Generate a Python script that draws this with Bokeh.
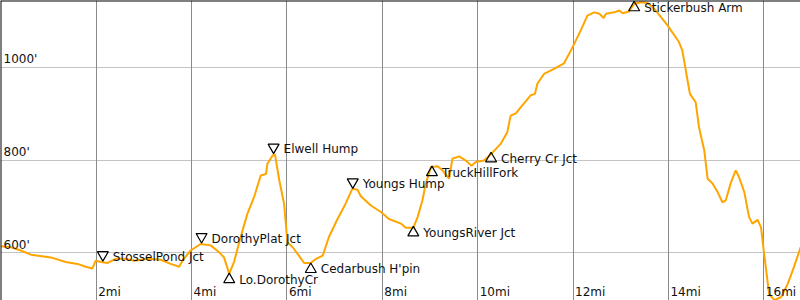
import math
from bokeh.plotting import figure
from bokeh.models import ColumnDataSource, Span, FixedTicker, Grid
from bokeh.core.properties import value
from bokeh.embed import file_html
from bokeh.resources import INLINE

# ---- data: trail elevation profile ----
miles = [0.00, 0.21, 0.42, 0.63, 1.05, 1.36, 1.61, 1.78, 1.92, 1.99,
         2.10, 2.24, 2.41, 2.59, 2.80, 3.08, 3.35, 3.56, 3.74, 3.81,
         3.98, 4.19, 4.40, 4.58, 4.68, 4.79, 4.89, 5.03, 5.17, 5.31,
         5.45, 5.56, 5.59, 5.70, 5.75, 5.84, 5.94, 6.01, 6.12, 6.25,
         6.36, 6.50, 6.61, 6.75, 6.88, 7.06, 7.23, 7.37, 7.48, 7.55,
         7.76, 7.97, 8.14, 8.39, 8.49, 8.65, 8.74, 8.84, 8.91, 9.02,
         9.16, 9.26, 9.40, 9.47, 9.61, 9.75, 9.87, 9.96, 10.13, 10.27,
         10.48, 10.62, 10.69, 10.80, 10.90, 11.11, 11.20, 11.25, 11.39, 11.60,
         11.81, 11.99, 12.16, 12.30, 12.44, 12.55, 12.64, 12.69, 12.86, 12.97,
         13.04, 13.17, 13.28, 13.42, 13.56, 13.70, 13.98, 14.22, 14.29, 14.40,
         14.45, 14.57, 14.64, 14.75, 14.82, 14.92, 15.03, 15.13, 15.20, 15.31,
         15.41, 15.48, 15.59, 15.69, 15.76, 15.87, 15.94, 16.01, 16.11, 16.22,
         16.36, 16.50, 16.63, 16.77]
elev_ft = [614, 612, 605, 596, 590, 580, 576, 570, 566, 583,
           580, 578, 587, 587, 583, 587, 585, 576, 570, 583,
           605, 619, 616, 601, 590, 555, 580, 634, 684, 720,
           767, 770, 792, 810, 812, 756, 706, 623, 612, 594,
           578, 578, 587, 594, 634, 673, 706, 738, 736, 722,
           702, 688, 673, 663, 654, 654, 677, 713, 749, 785,
           787, 778, 760, 803, 808, 799, 788, 796, 799, 812,
           835, 860, 896, 901, 914, 940, 943, 965, 986, 997,
           1009, 1044, 1080, 1112, 1119, 1116, 1107, 1116, 1119, 1123,
           1117, 1121, 1137, 1141, 1139, 1127, 1091, 1055, 1037, 972,
           943, 925, 871, 821, 760, 750, 731, 709, 713, 752,
           778, 763, 731, 677, 663, 671, 655, 594, 511, 498,
           504, 533, 569, 612]

# ---- waypoints ----
wp_names = ["StosselPond Jct", "DorothyPlat Jct", "Lo.DorothyCr", "Elwell Hump",
            "Cedarbush H'pin", "Youngs Hump", "YoungsRiver Jct", "TruckHillFork",
            "Cherry Cr Jct", "Stickerbush Arm"]
wp_miles = [2.14, 4.21, 4.79, 5.72, 6.50, 7.38, 8.65, 9.04, 10.28, 13.28]
wp_elev = [582, 621, 556, 814, 578, 739, 657, 787, 817, 1143]
wp_peak = [True, True, False, True, False, True, False, False, False, False]

# ---- ticks ----
x_ticks = [2, 4, 6, 8, 10, 12, 14, 16]
x_tick_labels = ["2mi", "4mi", "6mi", "8mi", "10mi", "12mi", "14mi", "16mi"]
y_ticks = [600, 800, 1000]
y_tick_labels = ["600'", "800'", "1000'"]

W, H = 800, 300
X0, X1 = -0.006, 16.768
Y0, Y1 = 497.0, 1144.6
FONT = value("DejaVu Sans")

p = figure(width=W, height=H, x_range=(X0, X1), y_range=(Y0, Y1),
           output_backend="svg", toolbar_location=None, min_border=0,
           x_axis_location=None, y_axis_location=None)
p.center = [r for r in p.center if not isinstance(r, Grid)]
p.outline_line_color = None
p.background_fill_color = "white"
p.border_fill_color = "white"

p.add_layout(Grid(dimension=1, ticker=FixedTicker(ticks=y_ticks),
                  grid_line_color="#c4c4c4", grid_line_width=1), "center")
p.add_layout(Grid(dimension=0, ticker=FixedTicker(ticks=x_ticks),
                  grid_line_color="#8a8a8a", grid_line_width=1), "center")

p.add_layout(Span(location=X0, dimension="height", line_color="black", line_width=2))
p.add_layout(Span(location=Y1, dimension="width", line_color="black", line_width=2))

p.line(miles, elev_ft, line_color="#ffa500", line_width=2)

# tick labels inside the plot
xsrc = ColumnDataSource(dict(x=x_ticks, y=[Y0] * len(x_ticks), t=x_tick_labels,
                             yo=[-8.5] * len(x_ticks)))
p.text(x="x", y="y", text="t", x_offset=2, y_offset="yo", source=xsrc,
       text_align="left", text_baseline="middle", text_font=FONT,
       text_font_size="12px", text_color="#111111")
ysrc = ColumnDataSource(dict(x=[X0] * len(y_ticks), y=y_ticks, t=y_tick_labels,
                             yo=[-8.0] * len(y_ticks)))
p.text(x="x", y="y", text="t", x_offset=3, y_offset="yo", source=ysrc,
       text_align="left", text_baseline="middle", text_font=FONT,
       text_font_size="12px", text_color="#111111")

# waypoint markers
tri_size = 11
px_per_ft = H / (Y1 - Y0)
apex_off = (2.0 * tri_size * math.sqrt(3) / 2 / 3) / px_per_ft
marker_y = [e + apex_off if pk else e - apex_off for e, pk in zip(wp_elev, wp_peak)]
src = ColumnDataSource(dict(
    x=wp_miles, y=wp_elev, my=marker_y, name=wp_names,
    marker=["inverted_triangle" if pk else "triangle" for pk in wp_peak],
    yoff=[-4.5 if pk else 6.5 for pk in wp_peak],
))
p.scatter(x="x", y="my", marker="marker", size=tri_size, source=src,
          fill_color=None, line_color="black", line_width=1.2)
p.text(x="x", y="y", text="name", x_offset=10, y_offset="yoff", source=src,
       text_align="left", text_baseline="middle", text_font=FONT,
       text_font_size="12px", text_color="#111111")

open("out.html", "w").write(file_html(p, INLINE))
